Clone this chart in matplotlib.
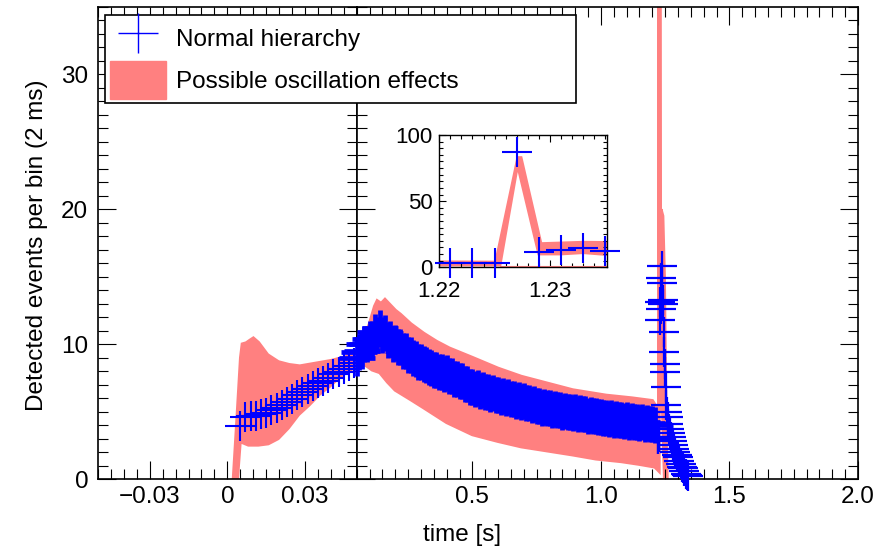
import numpy as np
import matplotlib
matplotlib.use("Agg")
import matplotlib.pyplot as plt
from matplotlib.lines import Line2D
from matplotlib.patches import Patch
from matplotlib.ticker import MultipleLocator

plt.rcParams["font.family"] = ["Liberation Sans", "DejaVu Sans"]
plt.rcParams["font.size"] = 17.5

PINK = "#ff8080"
BLUE = "#0000ff"

# Normal hierarchy, 2 ms bins, first 50 ms
nh_left_t = np.arange(0.005, 0.0495, 0.002)
nh_left_v = [3.9, 4.6, 4.65, 4.7, 4.8, 4.9, 5.1, 5.3, 5.5, 5.7, 5.95, 6.2,
             6.45, 6.7, 6.9, 7.1, 7.3, 7.5, 7.75, 7.95, 8.15, 8.4, 8.6]

# Normal hierarchy, read every 10 ms from 0.05 s to 1.21 s
nh_right_t = np.arange(0.05, 1.2105, 0.01)
nh_right_v = [9.0, 9.4, 9.5, 10.0, 10.0, 10.4, 10.4, 10.9, 10.7, 11.2,
              10.7, 10.8, 10.3, 10.4, 10.0, 10.1, 9.8, 9.8, 9.5, 9.5,
              9.2, 9.2, 8.95, 8.9, 8.7, 8.7, 8.5, 8.45, 8.3, 8.25,
              8.1, 8.1, 7.95, 7.95, 7.8, 7.85, 7.65, 7.65, 7.45, 7.45,
              7.25, 7.25, 7.05, 7.05, 6.85, 6.85, 6.7, 6.75, 6.55, 6.6,
              6.45, 6.45, 6.3, 6.35, 6.2, 6.25, 6.1, 6.15, 6.0, 6.05,
              5.9, 5.95, 5.8, 5.85, 5.7, 5.75, 5.6, 5.65, 5.5, 5.55,
              5.4, 5.45, 5.3, 5.35, 5.25, 5.25, 5.15, 5.2, 5.1, 5.15,
              5.0, 5.05, 4.95, 5.0, 4.9, 4.95, 4.85, 4.9, 4.8, 4.8,
              4.7, 4.75, 4.65, 4.7, 4.6, 4.6, 4.5, 4.55, 4.45, 4.5,
              4.4, 4.45, 4.35, 4.4, 4.3, 4.35, 4.25, 4.3, 4.2, 4.25,
              4.15, 4.2, 4.1, 4.15, 4.05, 4.1, 4.0]

# Normal hierarchy, neutronization burst and tail
nh_burst_t = [1.221, 1.223, 1.225, 1.227, 1.229, 1.231, 1.233, 1.235,
              1.237, 1.239, 1.241, 1.243, 1.245, 1.247, 1.249, 1.251,
              1.253, 1.255, 1.257, 1.259, 1.262, 1.266, 1.270, 1.274,
              1.278, 1.282, 1.286, 1.290, 1.295, 1.300, 1.305, 1.310,
              1.315, 1.320, 1.325, 1.330, 1.335, 1.340]
nh_burst_v = [3.0, 3.0, 3.1, 87.4, 11.8, 13.1, 14.9, 12.6,
              15.8, 14.5, 13.3, 13.0, 10.9, 9.4, 8.5, 7.9,
              6.8, 5.5, 5.0, 4.6, 4.1, 3.7, 3.4, 3.1,
              2.8, 2.5, 2.2, 2.0, 1.8, 1.6, 1.3, 1.1,
              0.9, 0.8, 0.6, 0.4, 0.3, 0.2]

# Oscillation band: upper and lower edges
osc_up_t = [0.0017, 0.0030, 0.0045, 0.0052, 0.0070, 0.0085, 0.0101, 0.0125,
            0.016, 0.020, 0.024, 0.028, 0.034, 0.040, 0.046, 0.050,
            0.08, 0.10, 0.12, 0.13, 0.145, 0.16, 0.18, 0.20, 0.22, 0.26,
            0.31, 0.36, 0.41, 0.50, 0.60, 0.69, 0.79, 0.89, 1.02, 1.12,
            1.20, 1.22, 1.2250, 1.2270, 1.2275, 1.2293, 1.233, 1.240,
            1.246, 1.250, 1.254, 1.257]
osc_up_v = [0.0, 4.1, 9.0, 10.1, 10.2, 10.4, 10.6, 10.2,
            9.3, 8.8, 8.6, 8.5, 8.7, 8.9, 9.2, 9.5,
            10.5, 11.5, 12.8, 13.2, 13.0, 13.3, 12.9, 12.5, 12.2, 11.5,
            10.8, 10.2, 9.7, 9.0, 8.2, 7.6, 7.1, 6.6, 6.2, 6.0,
            5.8, 5.2, 5.0, 84.0, 84.0, 19.0, 20.0, 19.5,
            15.0, 8.0, 2.0, 0.0]
osc_lo_t = [0.0017, 0.0045, 0.0055, 0.008, 0.012, 0.016, 0.020, 0.024,
            0.028, 0.032, 0.036, 0.040, 0.044, 0.048, 0.050,
            0.063, 0.088, 0.11, 0.14, 0.17, 0.20, 0.26, 0.31, 0.40, 0.50,
            0.60, 0.69, 0.79, 0.89, 0.98, 1.08, 1.15, 1.21, 1.2256,
            1.2271, 1.2289, 1.231, 1.233, 1.236, 1.242, 1.248, 1.257]
osc_lo_v = [0.0, 0.0, 2.6, 2.4, 2.4, 2.5, 2.9, 3.7,
            4.7, 5.4, 6.2, 6.8, 7.5, 8.0, 8.3,
            8.6, 8.4, 8.1, 7.9, 7.2, 6.6, 5.9, 5.3, 4.2, 3.3,
            2.8, 2.4, 2.1, 1.8, 1.5, 1.3, 1.1, 0.9, 0.6,
            72.0, 9.0, 9.0, 10.0, 8.0, 4.0, 0.0, 0.0]
osc_floor_t = [1.2256, 1.2360]
osc_floor_v = [0.0, 0.0]

band_t = list(osc_up_t) + list(osc_lo_t[::-1])
band_v = list(osc_up_v) + list(osc_lo_v[::-1])

burst_t = np.array(nh_burst_t)
burst_v = np.array(nh_burst_v)

W, H = 881, 552
fig = plt.figure(figsize=(W / 100, H / 100), dpi=100)
x0, xm, x1 = 98, 356.7, 858
y_top, y_bot = 7, 479
axL = fig.add_axes([x0 / W, 1 - y_bot / H, (xm - x0) / W, (y_bot - y_top) / H])
axR = fig.add_axes([xm / W, 1 - y_bot / H, (x1 - xm) / W, (y_bot - y_top) / H])

for ax in (axL, axR):
    ax.set_ylim(0, 35)
    ax.yaxis.set_major_locator(MultipleLocator(10))
    ax.yaxis.set_minor_locator(MultipleLocator(1))
    ax.tick_params(which="both", direction="in", top=True, right=True, width=0.8)
    ax.tick_params(which="major", length=13)
    ax.tick_params(which="minor", length=7)
    ax.tick_params(axis="y", pad=7)
    ax.tick_params(axis="x", pad=5)
    for s in ax.spines.values():
        s.set_linewidth(1.2)

# left panel
axL.fill(band_t, band_v, color=PINK, lw=0)
axL.plot(nh_left_t, nh_left_v, ls="none", marker="+", ms=21.6, mew=1.5,
         color=BLUE, clip_on=False, zorder=3)
axL.set_xlim(-0.05, 0.05)
axL.set_xticks([-0.03, 0, 0.03], labels=["\u22120.03", "0", "0.03"])
axL.xaxis.set_minor_locator(MultipleLocator(0.005))

# right panel
axR.fill(band_t, band_v, facecolor=PINK, edgecolor=PINK, lw=2.5)
axR.plot(osc_floor_t, osc_floor_v, color=PINK, lw=1.5)
axR.plot(nh_right_t, nh_right_v, ls="none", marker="+", ms=26, mew=3.4,
         color=BLUE, clip_on=False, zorder=3)
m = burst_v <= 35
axR.plot(burst_t[m], burst_v[m], ls="none", marker="+", ms=21.6, mew=1.6,
         color=BLUE, clip_on=False, zorder=3)
axR.set_xlim(0.05, 2.0)
axR.set_xticks([0.5, 1.0, 1.5, 2.0], labels=["0.5", "1.0", "1.5", "2.0"])
axR.xaxis.set_minor_locator(MultipleLocator(0.05))
axR.tick_params(axis="y", labelleft=False)

fig.text(462 / W, 1 - 535 / H, "time [s]", ha="center", va="center")
fig.text(37 / W, 1 - 245 / H, "Detected events per bin (2 ms)", rotation=90,
         ha="center", va="center")

# inset
ix0, ix1, iy0, iy1 = 439.3, 607.3, 135, 267.3
axI = fig.add_axes([ix0 / W, 1 - iy1 / H, (ix1 - ix0) / W, (iy1 - iy0) / H])
axI.fill(band_t, band_v, color=PINK, lw=0)
axI.plot(osc_floor_t, osc_floor_v, color=PINK, lw=1.5)
m = burst_t <= 1.2355
axI.plot(burst_t[m], burst_v[m], ls="none", marker="+", ms=21.6, mew=1.5,
         color=BLUE, clip_on=False, zorder=3)
axI.set_xlim(1.22, 1.2352)
axI.set_ylim(0, 100)
axI.set_xticks([1.22, 1.23], labels=["1.22", "1.23"])
axI.set_yticks([0, 50, 100], labels=["0", "50", "100"])
axI.xaxis.set_minor_locator(MultipleLocator(0.001))
axI.yaxis.set_minor_locator(MultipleLocator(5))
axI.tick_params(which="both", direction="in", top=True, right=True, width=0.8,
                labelsize=16)
axI.tick_params(which="major", length=5)
axI.tick_params(which="minor", length=3)
axI.tick_params(axis="y", pad=5)
axI.tick_params(axis="x", pad=10)
for s in axI.spines.values():
    s.set_linewidth(1.0)

# legend
handles = [Line2D([], [], ls="none", marker="+", ms=29, mew=1.0, color=BLUE),
           Patch(facecolor=PINK, edgecolor=PINK)]
labels = ["Normal hierarchy", "Possible oscillation effects"]
fig.legend(handles, labels, loc="upper left",
           bbox_to_anchor=(105 / W, 1 - 103 / H, (576 - 105) / W, (103 - 15) / H),
           mode="expand", borderaxespad=0, fancybox=False, framealpha=1,
           edgecolor="black", handlelength=2.3, handleheight=2.0,
           handletextpad=0.42, labelspacing=0.15, borderpad=0.2)
fig.legends[0].get_frame().set_linewidth(1.2)

fig.savefig("out.png", dpi=100)
